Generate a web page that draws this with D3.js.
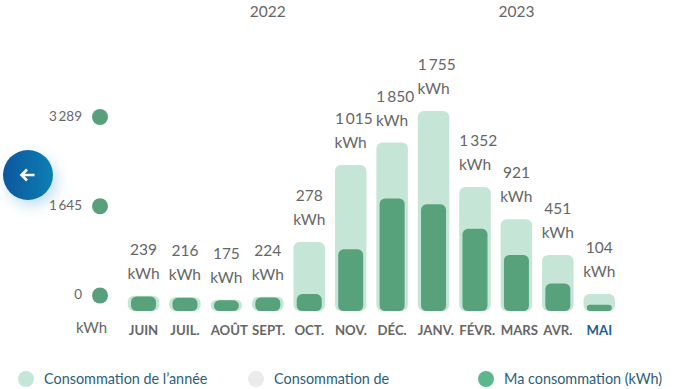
<!DOCTYPE html>
<html>
<head>
<meta charset="utf-8">
<script src="https://cdn.jsdelivr.net/npm/d3@7"></script>
<style>
  html, body { margin: 0; padding: 0; background: #fff; overflow: hidden; }
  text { font-family: Lato, "Noto Sans", sans-serif; }
</style>
</head>
<body>
<div id="chart"></div>
<script>
const months = ["JUIN", "JUIL.", "AOÛT", "SEPT.", "OCT.", "NOV.", "DÉC.", "JANV.", "FÉVR.", "MARS", "AVR.", "MAI"];
const maConso = [239, 216, 175, 224, 278, 1015, 1850, 1755, 1352, 921, 451, 104];
const consoAnnee = [250, 228, 185, 236, 1135, 2400, 2770, 3289, 2040, 1510, 920, 280];
const axisTicks = [0, 1645, 3289];
const legendLabels = ["Consommation de l\u2019année", "Consommation de", "Ma consommation (kWh)"];
const legendColors = ["#c5e6d6", "#ebebeb", "#5eb78c"];
const years = [
  { label: "2022", first: "JUIN", last: "DÉC." },
  { label: "2023", first: "JANV.", last: "MAI" }
];

const width = 692, height = 389;
const baseline = 311;

const fmt = d3.formatLocale({ decimal: ",", thousands: "\u2009", grouping: [3], currency: ["", ""] }).format(",d");

const svg = d3.select("#chart").append("svg")
  .attr("width", width)
  .attr("height", height);

const x = d3.scaleBand()
  .domain(months)
  .range([122.8, 620])
  .paddingInner(0.24)
  .paddingOuter(0.12);

// bars grow from the baseline, 3289 kWh = 200px
const y = d3.scaleLinear().domain([0, 3289]).range([baseline, baseline - 200]);

// the axis dots are on their own shorter scale
const yAxis = d3.scaleLinear().domain([0, 3289]).range([295.5, 117]);

const center = (m) => x(m) + x.bandwidth() / 2;

// text wider than its bar overflows to the right, like a centred html cell
function fitLabel(sel, monthOf) {
  sel.each(function (d, i) {
    const m = monthOf(d, i);
    const w = this.getComputedTextLength();
    if (w > x.bandwidth()) {
      d3.select(this).attr("x", x(m)).attr("text-anchor", "start");
    } else {
      d3.select(this).attr("x", center(m)).attr("text-anchor", "middle");
    }
  });
}

// years
svg.append("g").selectAll("text")
  .data(years)
  .join("text")
  .attr("x", (d) => (center(d.first) + center(d.last)) / 2)
  .attr("y", 17)
  .attr("text-anchor", "middle")
  .attr("font-size", 15.5)
  .attr("fill", "#666")
  .text((d) => d.label);

// left axis
const axis = svg.append("g");
axis.selectAll("circle")
  .data(axisTicks)
  .join("circle")
  .attr("cx", 100)
  .attr("cy", (d) => yAxis(d))
  .attr("r", 8)
  .attr("fill", "#5a9f7c");
axis.selectAll("text")
  .data(axisTicks)
  .join("text")
  .attr("x", 82)
  .attr("y", (d) => yAxis(d) - 1)
  .attr("dy", "0.35em")
  .attr("text-anchor", "end")
  .attr("font-size", 13.5)
  .attr("fill", "#666")
  .text((d) => fmt(d));
svg.append("text")
  .attr("x", 91.5)
  .attr("y", 333)
  .attr("text-anchor", "middle")
  .attr("font-size", 15)
  .attr("fill", "#666")
  .text("kWh");

// outer bars
svg.append("g").selectAll("rect")
  .data(consoAnnee)
  .join("rect")
  .attr("x", (d, i) => x(months[i]))
  .attr("y", (d) => y(d))
  .attr("width", x.bandwidth())
  .attr("height", (d) => baseline - y(d))
  .attr("rx", 6)
  .attr("fill", "#c5e6d6");

// inner bars
const innerW = 25;
svg.append("g").selectAll("rect")
  .data(maConso)
  .join("rect")
  .attr("x", (d, i) => center(months[i]) - innerW / 2)
  .attr("y", (d) => y(d))
  .attr("width", innerW)
  .attr("height", (d) => baseline - y(d))
  .attr("rx", (d) => Math.min(5.5, (baseline - y(d)) / 2))
  .attr("fill", "#57a27b");

// value labels sit above the taller of the two bars
const labels = svg.append("g").selectAll("g")
  .data(maConso)
  .join("g");
const topOf = (i) => y(Math.max(maConso[i], consoAnnee[i]));
labels.append("text")
  .attr("y", (d, i) => topOf(i) - 41)
  .attr("font-size", 15.5)
  .attr("fill", "#666")
  .text((d) => fmt(d))
  .call(fitLabel, (d) => months[maConso.indexOf(d)]);
labels.append("text")
  .attr("x", (d, i) => center(months[i]))
  .attr("y", (d, i) => topOf(i) - 17)
  .attr("text-anchor", "middle")
  .attr("font-size", 15.5)
  .attr("fill", "#666")
  .text("kWh");

// month labels
svg.append("g").selectAll("text")
  .data(months)
  .join("text")
  .attr("y", 335)
  .attr("font-size", 13.2)
  .attr("font-weight", 700)
  .attr("fill", (d) => d === "MAI" ? "#1f5f8f" : "#666")
  .text((d) => d)
  .call(fitLabel, (d) => d);

// legend
const legendX = d3.scalePoint().domain(legendLabels).range([26, 486]);
const legend = svg.append("g").selectAll("g")
  .data(legendLabels)
  .join("g")
  .attr("transform", (d) => `translate(${legendX(d)},379)`);
legend.append("circle")
  .attr("r", 8)
  .attr("fill", (d, i) => legendColors[i]);
legend.append("text")
  .attr("x", 18)
  .attr("dy", "0.35em")
  .attr("font-size", 14.4)
  .attr("fill", "#2c6079")
  .text((d) => d);

// back button
const defs = svg.append("defs");
const grad = defs.append("linearGradient").attr("id", "btn");
grad.append("stop").attr("offset", "0%").attr("stop-color", "#07569f");
grad.append("stop").attr("offset", "100%").attr("stop-color", "#0f7fb2");
const blur = defs.append("filter")
  .attr("id", "shadow")
  .attr("x", "-60%").attr("y", "-60%")
  .attr("width", "220%").attr("height", "220%");
blur.append("feDropShadow")
  .attr("dx", 4).attr("dy", 6)
  .attr("stdDeviation", 7)
  .attr("flood-color", "#4aa8e0")
  .attr("flood-opacity", 0.35);

const btn = svg.append("g").attr("transform", "translate(28,175)");
btn.append("circle")
  .attr("r", 25)
  .attr("fill", "url(#btn)")
  .attr("filter", "url(#shadow)");
btn.append("path")
  .attr("d", "M6.5,0H-6M-1,-5.5L-6.5,0L-1,5.5")
  .attr("fill", "none")
  .attr("stroke", "#fff")
  .attr("stroke-width", 2.6);
</script>
</body>
</html>
